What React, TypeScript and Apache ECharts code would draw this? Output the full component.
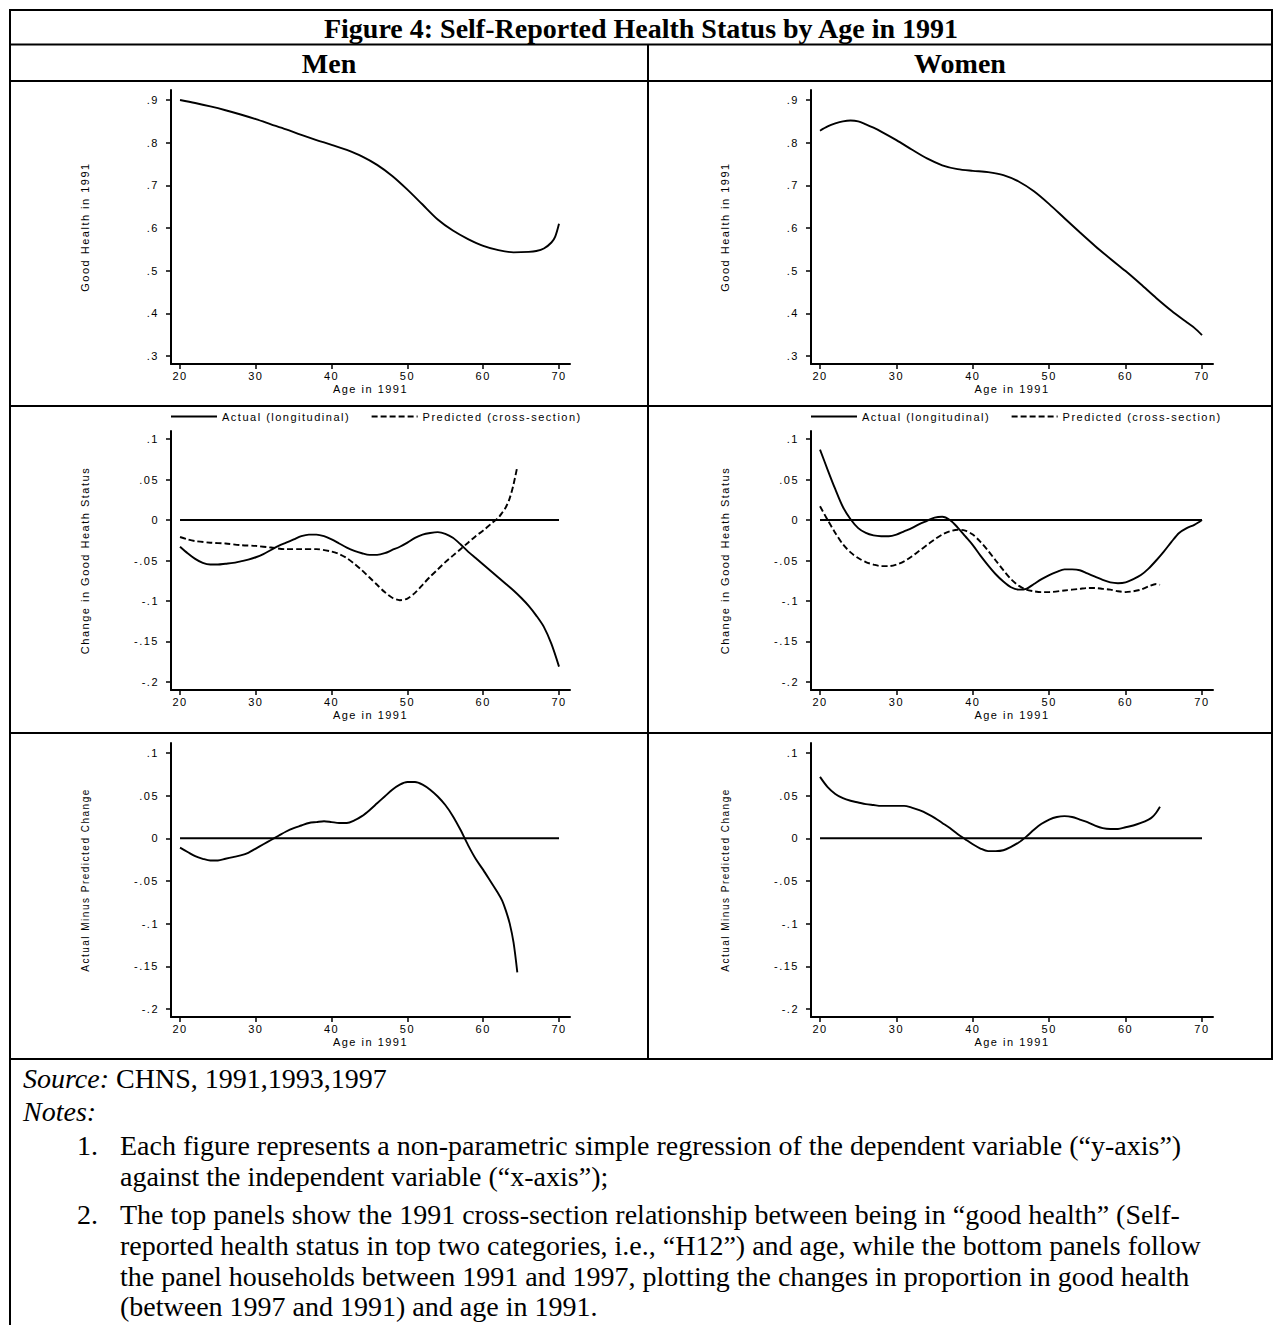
import React, { useEffect, useRef } from 'react';
import * as echarts from 'echarts';

// ---------------- data ----------------
const AGE_TICKS = [20, 30, 40, 50, 60, 70];
const HEALTH_TICKS = [0.3, 0.4, 0.5, 0.6, 0.7, 0.8, 0.9];
const CHANGE_TICKS = [-0.2, -0.15, -0.1, -0.05, 0, 0.05, 0.1];
const ZERO_LINE = [[20, 0], [70, 0]];

const menGoodHealth91 = [
  [20, 0.900], [22, 0.893], [24, 0.885], [26, 0.876], [28, 0.866], [30, 0.855], [32, 0.843],
  [34, 0.831], [36, 0.818], [38, 0.806], [40, 0.795], [42, 0.783], [44, 0.768], [46, 0.748],
  [48, 0.722], [50, 0.690], [52, 0.655], [54, 0.620], [56, 0.594], [58, 0.574], [60, 0.558],
  [62, 0.548], [64, 0.543], [66, 0.544], [67, 0.546], [68, 0.552], [69, 0.566], [69.5, 0.580], [70, 0.610],
];
const womenGoodHealth91 = [
  [20, 0.828], [21, 0.838], [22, 0.845], [23, 0.850], [24, 0.852], [25, 0.850], [26, 0.843],
  [27, 0.835], [28, 0.826], [30, 0.806], [32, 0.784], [34, 0.763], [36, 0.747], [38, 0.738],
  [40, 0.734], [42, 0.731], [44, 0.724], [46, 0.709], [48, 0.686], [50, 0.656], [52, 0.623],
  [54, 0.590], [56, 0.558], [58, 0.528], [60, 0.499], [62, 0.468], [64, 0.436], [66, 0.406],
  [68, 0.379], [69, 0.366], [70, 0.349],
];
const menActualChange = [
  [20, -0.033], [21, -0.041], [22, -0.048], [23, -0.053], [24, -0.055], [25, -0.055], [26, -0.054],
  [27, -0.053], [28, -0.051], [29, -0.049], [30, -0.046], [31, -0.042], [32, -0.037], [33, -0.032],
  [34, -0.028], [35, -0.024], [36, -0.020], [37, -0.018], [38, -0.018], [39, -0.020], [40, -0.024],
  [41, -0.029], [42, -0.034], [43, -0.038], [44, -0.041], [45, -0.043], [46, -0.043], [47, -0.041],
  [48, -0.037], [49, -0.033], [50, -0.028], [51, -0.022], [52, -0.018], [53, -0.016], [54, -0.015],
  [55, -0.017], [56, -0.022], [57, -0.030], [58, -0.039], [59, -0.047], [60, -0.055], [61, -0.063],
  [62, -0.071], [63, -0.079], [64, -0.087], [65, -0.096], [66, -0.106], [67, -0.118], [68, -0.132],
  [69, -0.153], [70, -0.181],
];
const menPredictedChange = [
  [20, -0.021], [21, -0.024], [22, -0.026], [24, -0.028], [26, -0.029], [28, -0.031], [30, -0.032],
  [32, -0.034], [34, -0.036], [36, -0.036], [38, -0.036], [40, -0.039], [41, -0.042], [42, -0.047],
  [43, -0.054], [44, -0.062], [45, -0.071], [46, -0.080], [47, -0.089], [48, -0.096], [49, -0.099],
  [50, -0.097], [51, -0.090], [52, -0.080], [53, -0.070], [54, -0.061], [55, -0.052], [56, -0.044],
  [57, -0.036], [58, -0.028], [59, -0.020], [60, -0.013], [61, -0.005], [62, 0.003], [62.5, 0.009],
  [63, 0.016], [63.5, 0.027], [64, 0.044], [64.5, 0.066],
];
const womenActualChange = [
  [20, 0.087], [21, 0.062], [22, 0.038], [23, 0.016], [24, 0.001], [25, -0.010], [26, -0.016],
  [27, -0.019], [28, -0.020], [29, -0.020], [30, -0.018], [31, -0.014], [32, -0.010], [33, -0.005],
  [34, -0.001], [35, 0.003], [36, 0.004], [37, 0.000], [38, -0.009], [39, -0.020], [40, -0.031],
  [41, -0.044], [42, -0.056], [43, -0.067], [44, -0.076], [45, -0.083], [46, -0.086], [47, -0.085],
  [48, -0.079], [49, -0.073], [50, -0.068], [51, -0.064], [52, -0.061], [53, -0.061], [54, -0.062],
  [55, -0.066], [56, -0.070], [57, -0.074], [58, -0.077], [59, -0.078], [60, -0.077], [61, -0.073],
  [62, -0.068], [63, -0.060], [64, -0.050], [65, -0.039], [66, -0.027], [67, -0.016], [68, -0.010],
  [69, -0.006], [70, 0.000],
];
const womenPredictedChange = [
  [20, 0.017], [21, 0.000], [22, -0.016], [23, -0.030], [24, -0.040], [25, -0.047], [26, -0.052],
  [27, -0.055], [28, -0.057], [29, -0.057], [30, -0.055], [31, -0.051], [32, -0.045], [33, -0.038],
  [34, -0.031], [35, -0.024], [36, -0.018], [37, -0.014], [38, -0.012], [39, -0.013], [40, -0.018],
  [41, -0.027], [42, -0.038], [43, -0.050], [44, -0.062], [45, -0.073], [46, -0.081], [47, -0.086],
  [48, -0.088], [49, -0.089], [50, -0.089], [52, -0.087], [54, -0.085], [55, -0.084], [56, -0.084],
  [57, -0.085], [58, -0.086], [59, -0.088], [60, -0.089], [61, -0.088], [62, -0.086], [63, -0.082],
  [64, -0.079], [64.5, -0.080],
];
const menActualMinusPredicted = [
  [20, -0.011], [21, -0.016], [22, -0.021], [23, -0.024], [24, -0.026], [25, -0.026], [26, -0.024],
  [27, -0.022], [28, -0.020], [29, -0.017], [30, -0.012], [31, -0.007], [32, -0.002], [33, 0.003],
  [34, 0.008], [35, 0.012], [36, 0.015], [37, 0.018], [38, 0.019], [39, 0.020], [40, 0.019],
  [41, 0.018], [42, 0.018], [43, 0.021], [44, 0.026], [45, 0.033], [46, 0.041], [47, 0.049],
  [48, 0.057], [49, 0.063], [50, 0.066], [51, 0.066], [52, 0.063], [53, 0.057], [54, 0.049],
  [55, 0.039], [56, 0.026], [57, 0.010], [58, -0.008], [59, -0.024], [60, -0.037], [61, -0.051],
  [62, -0.065], [62.5, -0.073], [63, -0.085], [63.5, -0.100], [64, -0.122], [64.5, -0.157],
];
const womenActualMinusPredicted = [
  [20, 0.072], [21, 0.060], [22, 0.052], [23, 0.047], [24, 0.044], [25, 0.042], [26, 0.040],
  [27, 0.039], [28, 0.038], [29, 0.038], [30, 0.038], [31, 0.038], [32, 0.036], [33, 0.033],
  [34, 0.029], [35, 0.024], [36, 0.018], [37, 0.012], [38, 0.005], [39, -0.001], [40, -0.007],
  [41, -0.012], [42, -0.015], [43, -0.015], [44, -0.014], [45, -0.010], [46, -0.005], [47, 0.002],
  [48, 0.010], [49, 0.017], [50, 0.022], [51, 0.025], [52, 0.026], [53, 0.025], [54, 0.022],
  [55, 0.019], [56, 0.015], [57, 0.012], [58, 0.011], [59, 0.011], [60, 0.013], [61, 0.015],
  [62, 0.018], [63, 0.022], [63.5, 0.025], [64, 0.030], [64.5, 0.037],
];

// ---------------- texts ----------------
const TITLE = 'Figure 4: Self-Reported Health Status by Age in 1991';
const COLUMN_HEADS = ['Men', 'Women'];
const Y_NAMES = ['Good Health in 1991', 'Change in Good Heath Status', 'Actual Minus Predicted Change'];
const X_NAME = 'Age in 1991';
const ACTUAL = 'Actual (longitudinal)';
const PREDICTED = 'Predicted (cross-section)';
const SOURCE_LINE = '{i|Source:} CHNS, 1991,1993,1997';
const NOTES_HEAD = '{i|Notes:}';
const NOTE_NUMBERS = ['1.', '2.'];
const NOTE_LINES = [
  'Each figure represents a non-parametric simple regression of the dependent variable (\u201cy-axis\u201d)',
  'against the independent variable (\u201cx-axis\u201d);',
  'The top panels show the 1991 cross-section relationship between being in \u201cgood health\u201d (Self-',
  'reported health status in top two categories, i.e., \u201cH12\u201d) and age, while the bottom panels follow',
  'the panel households between 1991 and 1997, plotting the changes in proportion in good health',
  '(between 1997 and 1991) and age in 1991.',
];

// ---------------- layout ----------------
const W = 1275;
const H = 1325;
const SANS = '"Liberation Sans", Arial, sans-serif';
const SERIF = '"Liberation Serif", "Times New Roman", serif';
const SERIF_SIZE = 28;
const COLS = [
  { left: 171, width: 399, min: 18.81, max: 71.45, legendLeft: 170 },
  { left: 811, width: 402, min: 18.82, max: 71.44, legendLeft: 810 },
];
const ROWS = [
  { top: 90, height: 274, min: 0.2813, max: 0.9234, ticks: HEALTH_TICKS, nameSize: 11 },
  { top: 431, height: 259, min: -0.2099, max: 0.1099, ticks: CHANGE_TICKS, nameSize: 11 },
  { top: 743, height: 274, min: -0.2094, max: 0.1117, ticks: CHANGE_TICKS, nameSize: 10 },
];
const H_RULES = [10, 44.5, 81, 406, 733, 1059];
const SOURCE_Y = 1078;
const NOTES_HEAD_Y = 1111;
const NOTE_Y = [1145, 1176, 1214, 1245, 1276, 1306];
const NOTE_NUM_Y = [1145, 1214];

const tickFmt = (v: number) => {
  const r = Math.round(v * 100) / 100;
  if (r === 0) return '0';
  return String(r).replace('0.', '.');
};

function plotOption(): any {
  const grid: any[] = [];
  const xAxis: any[] = [];
  const yAxis: any[] = [];
  ROWS.forEach((row, r) => {
    COLS.forEach((col, c) => {
      const i = r * 2 + c;
      grid.push({ left: col.left, top: row.top, width: col.width, height: row.height, containLabel: false, outerBoundsMode: 'none' });
      xAxis.push({
        type: 'value', gridIndex: i, min: col.min, max: col.max,
        axisLine: { show: true, onZero: false, lineStyle: { color: '#000', width: 2 } },
        axisTick: { show: true, customValues: AGE_TICKS, length: 5, lineStyle: { color: '#000', width: 1.5 } },
        axisLabel: { show: true, customValues: AGE_TICKS, margin: 6, color: '#000', fontSize: 11, fontFamily: SANS },
        splitLine: { show: false },
        name: X_NAME, nameLocation: 'middle', nameGap: 19,
        nameTextStyle: { color: '#000', fontSize: 11, fontFamily: SANS },
      });
      yAxis.push({
        type: 'value', gridIndex: i, min: row.min, max: row.max,
        axisLine: { show: true, onZero: false, lineStyle: { color: '#000', width: 2 } },
        axisTick: { show: true, customValues: row.ticks, length: 5, lineStyle: { color: '#000', width: 1.5 } },
        axisLabel: { show: true, customValues: row.ticks, formatter: tickFmt, margin: 12, color: '#000', fontSize: 11, fontFamily: SANS },
        splitLine: { show: false },
        name: Y_NAMES[r], nameLocation: 'middle', nameGap: 81, nameRotate: 90,
        nameTextStyle: { color: '#000', fontSize: row.nameSize, fontFamily: SANS },
      });
    });
  });

  const line = (name: string, idx: number, data: number[][], dashed = false, width = 1.9) => ({
    name, type: 'line', xAxisIndex: idx, yAxisIndex: idx, data,
    symbol: 'none', showSymbol: false, smooth: 0.3, silent: true,
    emphasis: { disabled: true },
    lineStyle: { color: '#000', width, type: dashed ? [6, 3] : 'solid' },
    itemStyle: { color: '#000' },
  });

  const series = [
    line('Good Health in 1991 (Men)', 0, menGoodHealth91),
    line('Good Health in 1991 (Women)', 1, womenGoodHealth91),
    line('Zero (Men, change)', 2, ZERO_LINE, false, 2),
    line(ACTUAL, 2, menActualChange),
    line(PREDICTED, 2, menPredictedChange, true),
    line('Zero (Women, change)', 3, ZERO_LINE, false, 2),
    line(ACTUAL, 3, womenActualChange),
    line(PREDICTED, 3, womenPredictedChange, true),
    line('Zero (Men, difference)', 4, ZERO_LINE, false, 2),
    line('Actual minus predicted (Men)', 4, menActualMinusPredicted),
    line('Zero (Women, difference)', 5, ZERO_LINE, false, 2),
    line('Actual minus predicted (Women)', 5, womenActualMinusPredicted),
  ];

  const legend = COLS.map((col) => ({
    left: col.legendLeft, top: 411, orient: 'horizontal', padding: 0,
    itemWidth: 46, itemHeight: 14, itemGap: 52, selectedMode: false,
    itemStyle: { opacity: 0, color: 'transparent', borderColor: 'transparent', borderWidth: 0 },
    data: [ACTUAL, PREDICTED],
    textStyle: { color: '#000', fontSize: 11, fontFamily: SANS },
  }));

  return {
    animation: false,
    backgroundColor: 'transparent',
    textStyle: { fontFamily: SANS, color: '#000' },
    grid, xAxis, yAxis, series, legend,
  };
}

function frameOption(): any {
  const stroke = { stroke: '#000', lineWidth: 2 };
  const elements: any[] = [];
  H_RULES.forEach((y) => {
    elements.push({ type: 'line', shape: { x1: 9, y1: y, x2: 1273, y2: y }, style: stroke });
  });
  elements.push({ type: 'line', shape: { x1: 10, y1: 9, x2: 10, y2: H }, style: stroke });
  elements.push({ type: 'line', shape: { x1: 1272, y1: 9, x2: 1272, y2: 1060 }, style: stroke });
  elements.push({ type: 'line', shape: { x1: 648, y1: 44.5, x2: 648, y2: 1060 }, style: stroke });

  const serifText = (x: number, y: number, text: string, opts: any = {}) => ({
    type: 'text', x, y,
    style: {
      text, fill: '#000', fontFamily: SERIF, fontSize: SERIF_SIZE,
      textAlign: opts.align || 'left', align: opts.align || 'left',
      textVerticalAlign: 'middle', verticalAlign: 'middle',
      fontWeight: opts.bold ? 'bold' : 'normal',
      rich: { i: { fontStyle: 'italic', fontFamily: SERIF, fontSize: SERIF_SIZE, fill: '#000' } },
    },
  });
  elements.push(serifText(641, 28, TITLE, { align: 'center', bold: true }));
  elements.push(serifText(329, 63, COLUMN_HEADS[0], { align: 'center', bold: true }));
  elements.push(serifText(960, 63, COLUMN_HEADS[1], { align: 'center', bold: true }));
  elements.push(serifText(23, SOURCE_Y, SOURCE_LINE));
  elements.push(serifText(23, NOTES_HEAD_Y, NOTES_HEAD));
  NOTE_NUMBERS.forEach((n, k) => elements.push(serifText(77, NOTE_NUM_Y[k], n)));
  NOTE_LINES.forEach((t, k) => elements.push(serifText(120, NOTE_Y[k], t)));

  return { animation: false, backgroundColor: '#fff', graphic: { elements } };
}

export default function App() {
  const frameRef = useRef<HTMLDivElement>(null);
  const plotRef = useRef<HTMLDivElement>(null);
  useEffect(() => {
    document.body.style.margin = '0';
    const frame = echarts.init(frameRef.current as HTMLDivElement, null, { renderer: 'svg', width: W, height: H });
    const plots = echarts.init(plotRef.current as HTMLDivElement, null, { renderer: 'svg', width: W, height: H });
    frame.setOption(frameOption());
    plots.setOption(plotOption());
    return () => {
      frame.dispose();
      plots.dispose();
    };
  }, []);
  return (
    <div style={{ position: 'relative', width: W, height: H, background: '#fff', overflow: 'hidden' }}>
      <style>{'.plots text { letter-spacing: 1.5px; }'}</style>
      <div ref={frameRef} style={{ position: 'absolute', left: 0, top: 0, width: W, height: H }} />
      <div ref={plotRef} className="plots" style={{ position: 'absolute', left: 0, top: 0, width: W, height: H }} />
    </div>
  );
}
